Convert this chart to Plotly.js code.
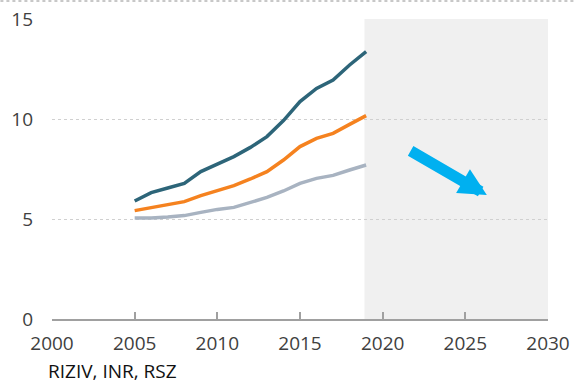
<!DOCTYPE html>
<html>
<head>
<meta charset="utf-8">
<script src="https://cdn.plot.ly/plotly-3.0.1.min.js"></script>
<style>
  html, body { margin: 0; padding: 0; background: #ffffff; }
  #chart { width: 574px; height: 385px; }
</style>
</head>
<body>
<div id="chart"></div>
<script>
// Years observed
const years = [2005, 2006, 2007, 2008, 2009, 2010, 2011, 2012, 2013, 2014, 2015, 2016, 2017, 2018, 2019];

// Three series (values in the axis unit)
const seriesTop = [5.9, 6.32, 6.55, 6.78, 7.37, 7.73, 8.12, 8.58, 9.12, 9.92, 10.87, 11.53, 11.95, 12.7, 13.37];
const seriesMid = [5.42, 5.57, 5.72, 5.87, 6.17, 6.42, 6.67, 7.0, 7.37, 7.95, 8.62, 9.03, 9.28, 9.73, 10.17];
const seriesLow = [5.05, 5.05, 5.1, 5.17, 5.33, 5.48, 5.58, 5.82, 6.08, 6.4, 6.78, 7.03, 7.18, 7.45, 7.7];

// Axis ticks
const xTicks = [2000, 2005, 2010, 2015, 2020, 2025, 2030];
const yTicks = [0, 5, 10, 15];

// Projection period and trend arrow
const projectionStart = 2018.9;
const projectionEnd = 2030;
const arrowTail = [2021.6, 8.45];
const arrowHead = [2026.3, 6.2];

const sourceText = 'RIZIV, INR, RSZ';

const font = 'Open Sans, Noto Sans, sans-serif';

function line(y, color) {
  return {
    x: years, y: y, type: 'scatter', mode: 'lines',
    line: { color: color, width: 3.5 },
    hoverinfo: 'skip', showlegend: false
  };
}

const traces = [
  line(seriesLow, '#a8b3c1'),
  line(seriesMid, '#f5821f'),
  line(seriesTop, '#2d6579')
];

const layout = {
  width: 574, height: 385,
  margin: { l: 51.5, r: 25.7, t: 19, b: 66 },
  paper_bgcolor: '#ffffff',
  plot_bgcolor: 'rgba(0,0,0,0)',
  font: { family: font, size: 19, color: '#404040' },
  showlegend: false,
  xaxis: {
    range: [2000, 2030],
    tickvals: xTicks,
    ticktext: xTicks.map(String),
    ticks: 'inside', ticklen: 7, tickwidth: 2, tickcolor: '#a0a0a0',
    showline: true, linecolor: '#a0a0a0', linewidth: 2,
    showgrid: false, zeroline: false,
    ticklabelstandoff: 6,
    tickfont: { family: font, size: 19, color: '#404040' },
    fixedrange: true
  },
  yaxis: {
    range: [0, 15],
    tickvals: yTicks,
    ticktext: yTicks.map(String),
    ticks: '', showline: false, zeroline: false,
    showgrid: true, gridcolor: '#d0d0d0', griddash: 'dot', gridwidth: 1,
    ticklabelstandoff: 18,
    tickfont: { family: font, size: 19, color: '#404040' },
    fixedrange: true
  },
  shapes: [
    {
      // shaded projection period
      type: 'rect', xref: 'x', yref: 'y',
      x0: projectionStart, x1: projectionEnd, y0: 0, y1: 15,
      fillcolor: '#f0f0f0', line: { width: 0 }, layer: 'below'
    },
    {
      // dotted rule along the top edge
      type: 'line', xref: 'paper', yref: 'paper',
      x0: -0.104, x1: 1.052, y0: 1.06, y1: 1.06,
      line: { color: '#909090', width: 1, dash: 'dot' }
    }
  ],
  annotations: [
    {
      x: arrowHead[0], y: arrowHead[1], xref: 'x', yref: 'y',
      ax: arrowTail[0], ay: arrowTail[1], axref: 'x', ayref: 'y',
      showarrow: true, arrowhead: 2, arrowsize: 0.5, arrowwidth: 11,
      arrowcolor: '#00b0f0', text: ''
    },
    {
      x: -0.013, y: -0.222, xref: 'paper', yref: 'paper',
      xanchor: 'left', yanchor: 'bottom', showarrow: false,
      text: sourceText,
      font: { family: font, size: 19, color: '#111111' }
    }
  ]
};

Plotly.newPlot('chart', traces, layout, { displayModeBar: false, staticPlot: true });
</script>
</body>
</html>
